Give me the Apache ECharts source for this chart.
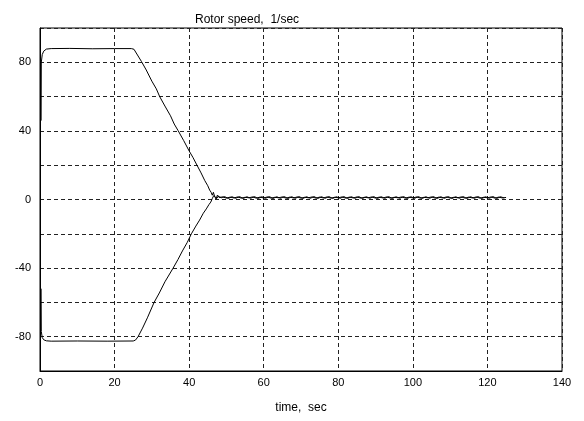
<!DOCTYPE html>
<html>
<head>
<meta charset="utf-8">
<script src="https://cdn.jsdelivr.net/npm/echarts@6/dist/echarts.min.js"></script>
<style>
    html, body { margin: 0; padding: 0; background: #fff; }
    #chart { width: 584px; height: 421px; }
</style>
</head>
<body>
<div id="chart"></div>
<script>
    // upper rotor branch: [time, speed]
    let upperHead = [
        [0.3, 46], [0.35, 80], [0.6, 84.5], [1, 86.5], [1.7, 87.7], [3, 88], [8, 88.1], [14, 87.9],
        [20, 88], [24.5, 88], [25.2, 87.6], [25.7, 86.5], [27.2, 80.5], [28.5, 75.5], [30, 69],
        [31.2, 64.5], [32.1, 60], [33.5, 54.5], [35, 48.8], [36, 44], [37, 40.3], [38.5, 34.5],
        [40, 28.3], [41, 24.6], [42.1, 20], [43.2, 15.5], [44.2, 11], [45, 8], [45.5, 5.5],
        [45.9, 4.2], [46.2, 2.5], [46.5, 4.2], [46.8, 2], [47.2, 0.3], [47.6, 2.6], [48, 1.2]
    ];
    // lower rotor branch
    let lowerHead = [
        [0.3, -52], [0.35, -77], [0.6, -80.5], [1, -81.8], [1.7, -82.4], [3, -82.6], [10, -82.5],
        [18, -82.6], [25, -82.5], [25.6, -82], [26.3, -80], [27.5, -75], [28.8, -69], [30.6, -60],
        [32, -54.5], [33.5, -48], [35.7, -40], [37, -35], [38.2, -30], [39.5, -25], [40.6, -20],
        [41.8, -15.5], [42.8, -12], [43.8, -8], [44.6, -5.5], [45.3, -3], [45.8, -1.5], [46.2, 0.5],
        [46.6, 2.3], [47, 3], [47.4, 0.6], [47.8, 1.9], [48.2, 0.8]
    ];
    // noisy settled part after the speeds meet
    let upperTail = [
        [49, 1.5], [50, 0.8], [51, 1.4], [52, 0.9], [53, 1.5], [54, 0.8], [55, 1.3], [56, 1.0],
        [57, 1.5], [58, 0.8], [59, 1.4], [60, 0.9], [61, 1.5], [62, 0.8], [63, 1.3], [64, 1.0],
        [65, 1.5], [66, 0.8], [67, 1.4], [68, 0.9], [69, 1.5], [70, 0.8], [71, 1.3], [72, 1.0],
        [73, 1.5], [74, 0.8], [75, 1.4], [76, 0.9], [77, 1.5], [78, 0.8], [79, 1.3], [80, 1.0],
        [81, 1.5], [82, 0.8], [83, 1.4], [84, 0.9], [85, 1.5], [86, 0.8], [87, 1.3], [88, 1.0],
        [89, 1.5], [90, 0.8], [91, 1.4], [92, 0.9], [93, 1.5], [94, 0.8], [95, 1.3], [96, 1.0],
        [97, 1.5], [98, 0.8], [99, 1.4], [100, 0.9], [101, 1.5], [102, 0.8], [103, 1.3], [104, 1.0],
        [105, 1.5], [106, 0.8], [107, 1.4], [108, 0.9], [109, 1.5], [110, 0.8], [111, 1.3], [112, 1.0],
        [113, 1.5], [114, 0.8], [115, 1.4], [116, 0.9], [117, 1.5], [118, 0.8], [119, 1.3], [120, 1.0],
        [121, 1.5], [122, 0.8], [123, 1.4], [124, 0.9], [125, 1.2]
    ];
    let lowerTail = [
        [48.6, 1.0], [49.5, 1.7], [50.5, 0.6], [51.5, 1.6], [52.5, 0.7], [53.5, 1.7], [54.5, 0.6],
        [55.5, 1.6], [56.5, 0.7], [57.5, 1.7], [58.5, 0.6], [59.5, 1.6], [60.5, 0.7], [61.5, 1.7],
        [62.5, 0.6], [63.5, 1.6], [64.5, 0.7], [65.5, 1.7], [66.5, 0.6], [67.5, 1.6], [68.5, 0.7],
        [69.5, 1.7], [70.5, 0.6], [71.5, 1.6], [72.5, 0.7], [73.5, 1.7], [74.5, 0.6], [75.5, 1.6],
        [76.5, 0.7], [77.5, 1.7], [78.5, 0.6], [79.5, 1.6], [80.5, 0.7], [81.5, 1.7], [82.5, 0.6],
        [83.5, 1.6], [84.5, 0.7], [85.5, 1.7], [86.5, 0.6], [87.5, 1.6], [88.5, 0.7], [89.5, 1.7],
        [90.5, 0.6], [91.5, 1.6], [92.5, 0.7], [93.5, 1.7], [94.5, 0.6], [95.5, 1.6], [96.5, 0.7],
        [97.5, 1.7], [98.5, 0.6], [99.5, 1.6], [100.5, 0.7], [101.5, 1.7], [102.5, 0.6], [103.5, 1.6],
        [104.5, 0.7], [105.5, 1.7], [106.5, 0.6], [107.5, 1.6], [108.5, 0.7], [109.5, 1.7],
        [110.5, 0.6], [111.5, 1.6], [112.5, 0.7], [113.5, 1.7], [114.5, 0.6], [115.5, 1.6],
        [116.5, 0.7], [117.5, 1.7], [118.5, 0.6], [119.5, 1.6], [120.5, 0.7], [121.5, 1.7],
        [122.5, 0.6], [123.5, 1.6], [124.5, 0.9]
    ];
    let yLabelled = [-80, -40, 0, 40, 80];

    let myChart = echarts.init(document.getElementById('chart'));
    let font = 'Liberation Sans, Arial, sans-serif';
    let gridLine = { show: true, lineStyle: { color: '#222', width: 1, type: [4, 3] } };
    let option = {
        backgroundColor: '#fff',
        animation: false,
        title: {
            text: 'Rotor speed,  1/sec',
            left: 190,
            top: 9,
            textStyle: { fontFamily: font, fontSize: 12, fontWeight: 'normal', color: '#000' }
        },
        grid: {
            left: 40, right: 22, top: 28, bottom: 50,
            show: true, borderColor: '#000', borderWidth: 1, backgroundColor: '#fff'
        },
        xAxis: {
            type: 'value',
            min: 0, max: 140, interval: 20,
            name: 'time,  sec',
            nameLocation: 'middle',
            nameGap: 31,
            nameTextStyle: { fontFamily: font, fontSize: 12, color: '#000' },
            axisLine: { show: true, onZero: false, lineStyle: { color: '#000' } },
            axisTick: { show: false },
            axisLabel: { fontFamily: font, fontSize: 11, color: '#000', margin: 6 },
            splitLine: gridLine
        },
        yAxis: {
            type: 'value',
            min: -100, max: 100, interval: 20,
            axisLine: { show: true, onZero: false, lineStyle: { color: '#000' } },
            axisTick: { show: false },
            axisLabel: {
                fontFamily: font, fontSize: 11, color: '#000', margin: 9,
                formatter: function (v) { return yLabelled.indexOf(v) >= 0 ? String(v) : ''; }
            },
            splitLine: gridLine
        },
        series: [
            { name: 'upper', type: 'line', data: upperHead.concat(upperTail) },
            { name: 'lower', type: 'line', data: lowerHead.concat(lowerTail) }
        ].map(function (s) {
            s.showSymbol = false;
            s.symbol = 'none';
            s.lineStyle = { color: '#000', width: 1 };
            s.z = 3;
            return s;
        })
    };
    myChart.setOption(option);
</script>
</body>
</html>
